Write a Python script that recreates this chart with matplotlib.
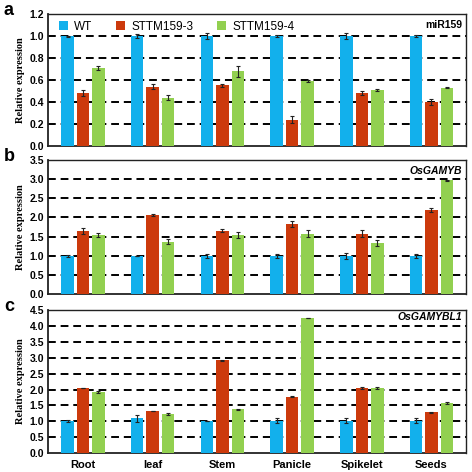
import matplotlib
matplotlib.use("Agg")
import matplotlib.pyplot as plt
import numpy as np

tissues = ["Root", "leaf", "Stem", "Panicle", "Spikelet", "Seeds"]
lines = ["WT", "STTM159-3", "STTM159-4"]
colors = ["#12B0EC", "#CC3A0C", "#92D050"]

# panel a - miR159
mir_wt = [1.00, 1.00, 1.00, 1.00, 1.00, 1.00]
mir_wt_err = [0.005, 0.02, 0.03, 0.01, 0.03, 0.01]
mir_s3 = [0.48, 0.54, 0.55, 0.24, 0.48, 0.40]
mir_s3_err = [0.03, 0.02, 0.01, 0.03, 0.02, 0.03]
mir_s4 = [0.71, 0.44, 0.68, 0.59, 0.51, 0.53]
mir_s4_err = [0.02, 0.02, 0.05, 0.01, 0.01, 0.005]

# panel b - OsGAMYB
gamyb_wt = [1.00, 1.00, 1.00, 1.00, 1.00, 1.00]
gamyb_wt_err = [0.03, 0.005, 0.05, 0.05, 0.08, 0.05]
gamyb_s3 = [1.65, 2.07, 1.65, 1.82, 1.58, 2.20]
gamyb_s3_err = [0.07, 0.03, 0.04, 0.08, 0.09, 0.05]
gamyb_s4 = [1.55, 1.37, 1.55, 1.58, 1.33, 2.97]
gamyb_s4_err = [0.05, 0.07, 0.08, 0.09, 0.07, 0.02]

# panel c - OsGAMYBL1
gamybl1_wt = [1.00, 1.09, 1.00, 1.02, 1.02, 1.02]
gamybl1_wt_err = [0.03, 0.12, 0.005, 0.08, 0.08, 0.07]
gamybl1_s3 = [2.05, 1.33, 2.92, 1.78, 2.05, 1.28]
gamybl1_s3_err = [0.01, 0.01, 0.01, 0.01, 0.04, 0.02]
gamybl1_s4 = [1.93, 1.24, 1.38, 4.25, 2.04, 1.57]
gamybl1_s4_err = [0.04, 0.03, 0.01, 0.01, 0.03, 0.03]

panels = [
    ("a", "miR159", "normal", [mir_wt, mir_s3, mir_s4],
     [mir_wt_err, mir_s3_err, mir_s4_err], 1.2, 0.2),
    ("b", "OsGAMYB", "italic", [gamyb_wt, gamyb_s3, gamyb_s4],
     [gamyb_wt_err, gamyb_s3_err, gamyb_s4_err], 3.5, 0.5),
    ("c", "OsGAMYBL1", "italic", [gamybl1_wt, gamybl1_s3, gamybl1_s4],
     [gamybl1_wt_err, gamybl1_s3_err, gamybl1_s4_err], 4.5, 0.5),
]

# axes rectangles [left, bottom, width, height]
rects = [
    [0.102, 0.691, 0.886, 0.279],
    [0.102, 0.377, 0.886, 0.284],
    [0.102, 0.040, 0.886, 0.303],
]

plt.rcParams["font.family"] = ["Liberation Sans", "DejaVu Sans"]

fig = plt.figure(figsize=(4.72, 4.72), dpi=100)
x = np.arange(len(tissues))
bw = 0.18
step = 0.222

for i, (letter, gene, style, vals, errs, ymax, ystep) in enumerate(panels):
    ax = fig.add_axes(rects[i])
    for j in range(3):
        ax.bar(x + (j - 1) * step, vals[j], bw, yerr=errs[j], color=colors[j],
               label=lines[j], zorder=3, capsize=1.5,
               error_kw=dict(elinewidth=0.8, capthick=0.8, ecolor="#222222"))
    ax.set_xlim(-0.5, 5.5)
    ax.set_ylim(0, ymax)
    yt = np.arange(0, ymax + 1e-6, ystep)
    ax.set_yticks(yt)
    ax.set_yticklabels([f"{v:.1f}" for v in yt], fontsize=7.5, fontweight="bold")
    for v in yt[1:-1]:
        ax.axhline(v, color="black", lw=1.4, ls=(0, (4, 2.5)), zorder=1)
    ax.tick_params(axis="y", length=0, pad=3)
    ax.tick_params(axis="x", length=0, pad=5)
    for s in ax.spines.values():
        s.set_linewidth(1.0)
        s.set_color("#222222")
    ax.spines["bottom"].set_linewidth(1.3)
    ax.spines["left"].set_linewidth(1.3)
    if i == 2:
        ax.set_xticks(x)
        ax.set_xticklabels(tissues, fontsize=8, fontweight="bold")
    else:
        ax.set_xticks([])
    ax.set_ylabel("Relative expression", fontsize=7.5, fontweight="bold",
                  family="Liberation Serif", labelpad=3)
    ax.text(0.99, 0.985 if i == 2 else 0.955, gene, transform=ax.transAxes,
            ha="right", va="top", fontsize=7.5, fontweight="bold",
            fontstyle=style)
    fig.text(0.008, rects[i][1] + rects[i][3] + 0.008, letter, fontsize=13,
             fontweight="bold", va="center", ha="left")
    if i == 0:
        ax.legend(loc="upper left", ncol=3, frameon=False, fontsize=8.5,
                  handlelength=0.8, handleheight=0.8, columnspacing=2.0,
                  handletextpad=0.5, bbox_to_anchor=(0.0, 1.03))

fig.savefig("out.png", dpi=100)
